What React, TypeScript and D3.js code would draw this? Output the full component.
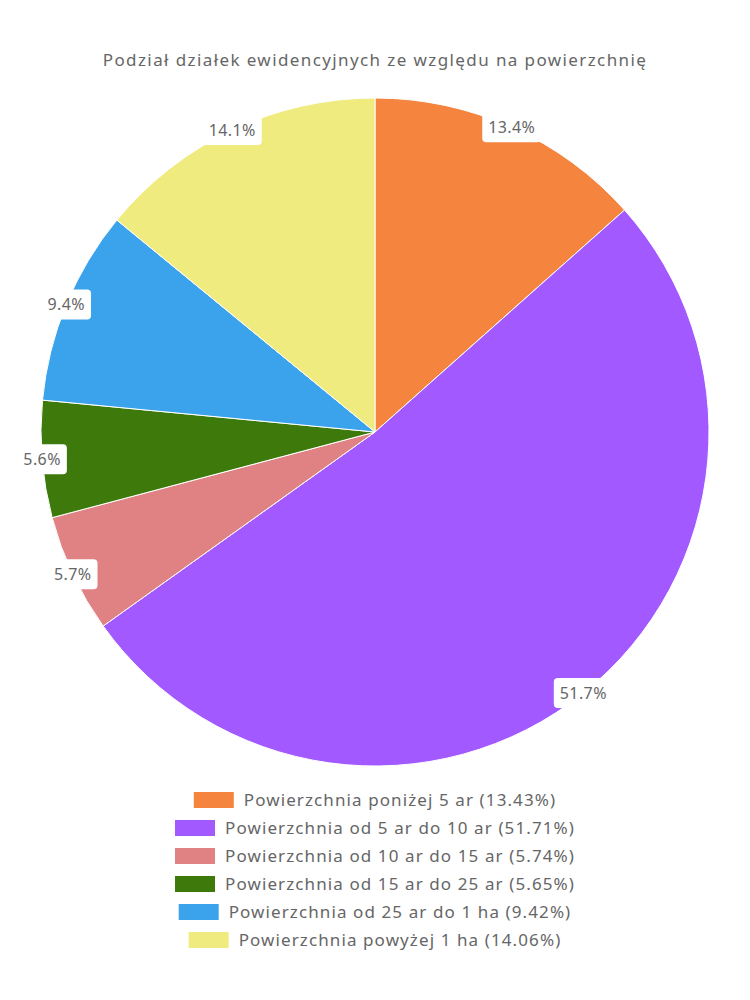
import React, { useRef, useEffect } from 'react';
import * as d3 from 'd3';

// slice data
const categories = [
  'Powierzchnia poniżej 5 ar',
  'Powierzchnia od 5 ar do 10 ar',
  'Powierzchnia od 10 ar do 15 ar',
  'Powierzchnia od 15 ar do 25 ar',
  'Powierzchnia od 25 ar do 1 ha',
  'Powierzchnia powyżej 1 ha',
];
const values = [13.43, 51.71, 5.74, 5.65, 9.42, 14.06];
const colors = ['#F5843F', '#A259FF', '#E08283', '#3D7A0B', '#3AA3EC', '#F0EB7E'];
const title = 'Podział działek ewidencyjnych ze względu na powierzchnię';

const FONT = '"Noto Sans", sans-serif';
const TEXT_COLOR = '#666666';

export default function App() {
  const svgRef = useRef<SVGSVGElement>(null);

  useEffect(() => {
    if (!svgRef.current) return;
    const width = 750;
    const height = 1000;
    const svg = d3.select(svgRef.current).attr('width', width).attr('height', height);
    svg.selectAll('*').remove();

    const cx = 375;
    const cy = 432;
    const radius = 334;
    const total = d3.sum(values);

    // title
    svg.append('text')
      .attr('x', width / 2)
      .attr('y', 66)
      .attr('text-anchor', 'middle')
      .attr('font-family', FONT)
      .attr('font-size', 17)
      .attr('letter-spacing', 1.4)
      .attr('fill', TEXT_COLOR)
      .text(title);

    const pie = d3.pie<number>().sort(null).value(d => d);
    const arcs = pie(values);
    const arc = d3.arc<d3.PieArcDatum<number>>().innerRadius(0).outerRadius(radius);

    const g = svg.append('g').attr('transform', `translate(${cx},${cy})`);

    g.selectAll('path.slice')
      .data(arcs)
      .enter()
      .append('path')
      .attr('class', 'slice')
      .attr('d', arc)
      .attr('fill', (_, i) => colors[i])
      .attr('stroke', '#ffffff')
      .attr('stroke-width', 1);

    // labels on the outer edge
    const labelArc = d3.arc<d3.PieArcDatum<number>>().innerRadius(radius).outerRadius(radius);
    arcs.forEach(a => {
      const [lx, ly] = labelArc.centroid(a);
      const lg = g.append('g').attr('transform', `translate(${lx},${ly})`);
      const rect = lg.append('rect').attr('fill', '#ffffff').attr('rx', 4).attr('ry', 4);
      const txt = lg.append('text')
        .attr('text-anchor', 'middle')
        .attr('dy', '0.35em')
        .attr('font-family', FONT)
        .attr('font-size', 16)
        .attr('letter-spacing', 0.4)
        .attr('fill', TEXT_COLOR)
        .text(`${((a.data / total) * 100).toFixed(1)}%`);
      const w = (txt.node() as SVGTextElement).getComputedTextLength() + 12;
      rect.attr('x', -w / 2).attr('y', -15).attr('width', w).attr('height', 30);
    });

    // legend
    const legendTop = 800;
    const rowH = 28;
    categories.forEach((c, i) => {
      const row = svg.append('g');
      const txt = row.append('text')
        .attr('dy', '0.35em')
        .attr('font-family', FONT)
        .attr('font-size', 17)
        .attr('letter-spacing', 1.1)
        .attr('fill', TEXT_COLOR)
        .text(`${c} (${values[i].toFixed(2)}%)`);
      const tw = (txt.node() as SVGTextElement).getComputedTextLength();
      const totalW = 40 + 10 + tw;
      const x0 = width / 2 - totalW / 2;
      const y = legendTop + i * rowH;
      row.append('rect')
        .attr('x', x0)
        .attr('y', y - 8)
        .attr('width', 40)
        .attr('height', 16)
        .attr('fill', colors[i]);
      txt.attr('x', x0 + 50).attr('y', y);
    });
  }, []);

  return (
    <svg ref={svgRef} style={{ position: 'absolute', left: 0, top: 0, background: '#ffffff' }} />
  );
}
